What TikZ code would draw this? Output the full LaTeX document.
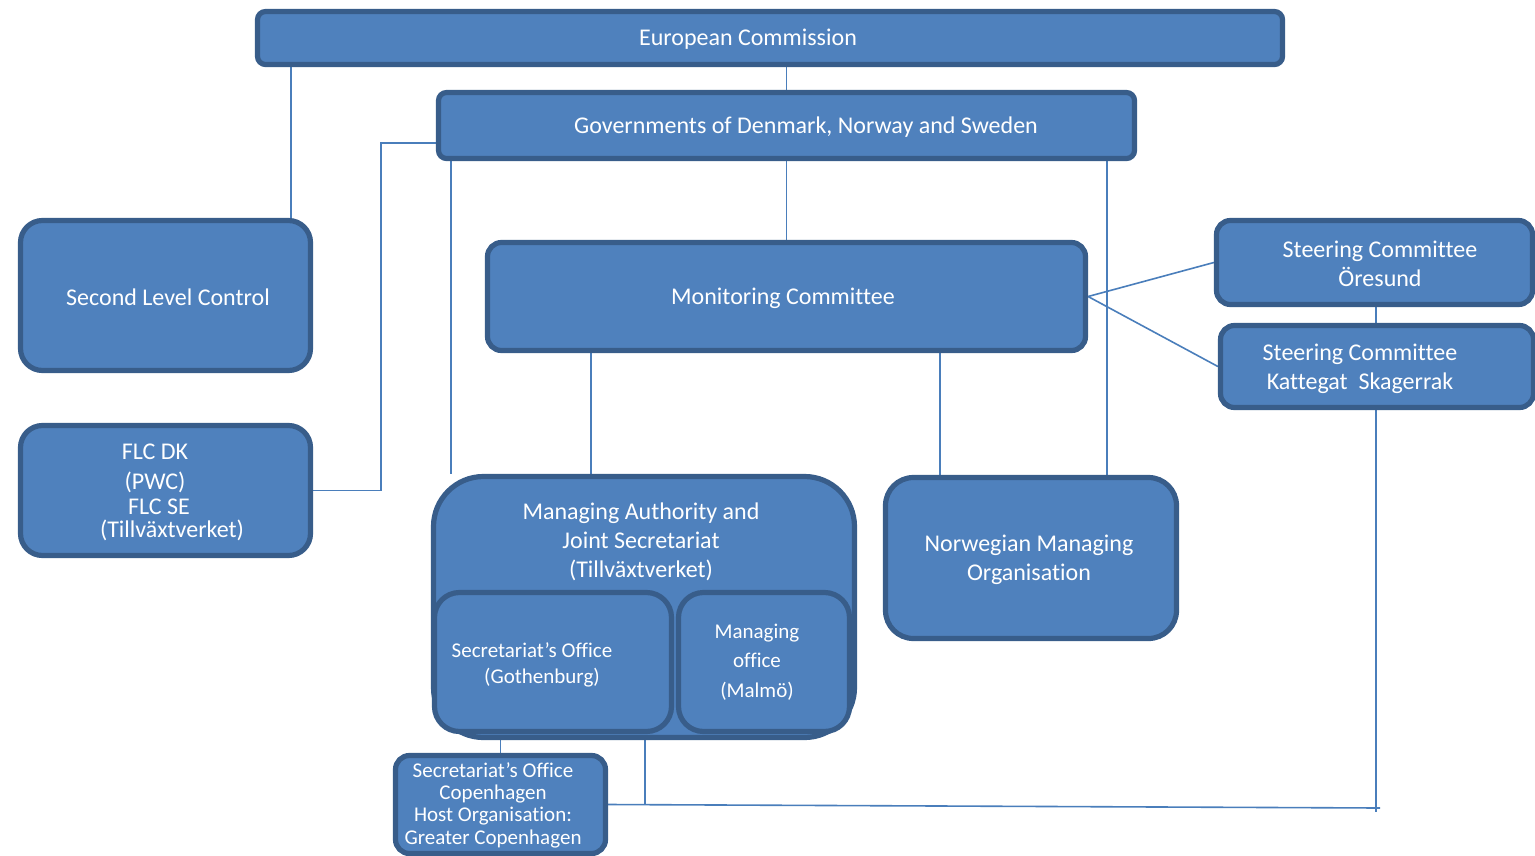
\documentclass[tikz,border=0pt]{standalone}
\usepackage{fontspec}
\setmainfont{Carlito}[Ligatures=NoCommon]
\usetikzlibrary{backgrounds}
\definecolor{boxfill}{HTML}{4F81BD}
\definecolor{boxedge}{HTML}{385D8A}
\definecolor{wire}{HTML}{4A7EBB}
\begin{document}
\begin{tikzpicture}[x=1pt,y=-1pt,
  box/.style={draw=boxedge, line width=5.2pt, fill=boxfill, inner sep=0pt},
  lbl/.style={text=white, font=\fontsize{24}{29}\selectfont, align=center, inner sep=0pt, yshift=-1pt},
  lblsmall/.style={lbl, font=\fontsize{21}{26}\selectfont},
  link/.style={draw=wire, line width=1.6pt}]
\useasboundingbox (0,0) rectangle (1535,855);

% boxes
\node[box, minimum width=1025pt, minimum height=53pt, rounded corners=8pt] (ec) at (770,38) {};
\node[box, minimum width=696pt, minimum height=66pt, rounded corners=8pt] (gov) at (786.5,125.5) {};
\node[box, minimum width=290pt, minimum height=150pt, rounded corners=22pt] (slc) at (165.5,295.5) {};
\node[box, minimum width=290pt, minimum height=130pt, rounded corners=22pt] (flc) at (165.5,490.5) {};
\node[box, minimum width=598pt, minimum height=108pt, rounded corners=14pt] (mc) at (786.5,296.5) {};
\node[box, minimum width=316pt, minimum height=84pt, rounded corners=14pt] (sco) at (1374.5,262.5) {};
\node[box, minimum width=313pt, minimum height=82pt, rounded corners=14pt] (sck) at (1377,366.5) {};
\node[box, minimum width=421pt, minimum height=261pt, rounded corners=50pt] (ma) at (644,607) {};
\node[box, minimum width=237pt, minimum height=139pt, rounded corners=25pt] (got) at (553,662) {};
\node[box, minimum width=171pt, minimum height=139pt, rounded corners=25pt] (mal) at (764,662) {};
\node[box, minimum width=291pt, minimum height=161pt, rounded corners=28pt] (nor) at (1031,558) {};
\node[box, minimum width=210pt, minimum height=98pt, rounded corners=14pt] (cph) at (500.5,804.5) {};

% texts
\node[lbl] (ec-t) at (748,38) {European Commission};
\node[lbl] (gov-t) at (806,126.5) {Governments of Denmark, Norway and Sweden};
\node[lbl] (slc-t) at (168,296) {Second Level Control};
\node[lbl] (flc-t) at (155,491.5) {FLC DK\\[1pt](PWC)\\[-4pt]\hspace*{8pt}FLC SE\\[-6pt]\hspace*{34pt}(Tillväxtverket)};
\node[lbl] (mc-t) at (783,297.5) {Monitoring Committee};
\node[lbl] (sco-t) at (1380,263) {Steering Committee\\Öresund};
\node[lbl] (sck-t) at (1360,367.5) {Steering Committee\\Kattegat\ \ Skagerrak};
\node[lbl] (ma-t) at (641,541) {Managing Authority and\\Joint Secretariat\\(Tillväxtverket)};
\node[lblsmall] (got-t) at (532,664) {Secretariat’s Office\\\hspace*{20pt}(Gothenburg)};
\node[lblsmall, font=\fontsize{21}{29.5}\selectfont] (mal-t) at (757,661) {Managing\\office\\(Malmö)};
\node[lbl] (nor-t) at (1029,559) {Norwegian Managing\\Organisation};
\node[lblsmall, font=\fontsize{21}{22.3}\selectfont] (cph-t) at (493,804) {Secretariat’s Office\\Copenhagen\\Host Organisation:\\Greater Copenhagen};

% helper positions of vertical connectors
\coordinate (x291) at (291,0);
\coordinate (x381) at (381,0);
\coordinate (x451) at (451,0);
\coordinate (x591) at (591,0);
\coordinate (x645) at (645,0);
\coordinate (x940) at (940,0);
\coordinate (x1107) at (1107,0);
\coordinate (x1376) at (1376,0);
\coordinate (govl) at (438,143);
\coordinate (bus) at (645,804.6);
\coordinate (busend) at (1380,808);
\coordinate (drop) at (1376,812);

\begin{scope}[on background layer]
  \draw[link] (gov.north) -- (gov.north |- ec.south);
  \draw[link] (x291 |- ec.south) -- (x291 |- slc.north);
  \draw[link] (gov.south) -- (mc.north);
  \draw[link] (govl) -| (x381 |- flc.east) -- (flc.east);
  \draw[link] (x451 |- gov.south) -- (x451 |- ma.north);
  \draw[link] (x1107 |- gov.south) -- (x1107 |- nor.north);
  \draw[link] (x591 |- mc.south) -- (x591 |- ma.north);
  \draw[link] (x940 |- mc.south) -- (x940 |- nor.north);
  \draw[link] (mc.east) -- (sco.west);
  \draw[link] (mc.east) -- (sck.west);
  \draw[link] (x1376 |- sco.south) -- (x1376 |- sck.north);
  \draw[link] (x1376 |- sck.south) -- (drop);
  \draw[link] (cph.east) -- (busend);
  \draw[link] (x645 |- ma.south) -- (bus);
  \draw[link] (cph.north) -- (cph.north |- got.south);
\end{scope}
\end{tikzpicture}
\end{document}
